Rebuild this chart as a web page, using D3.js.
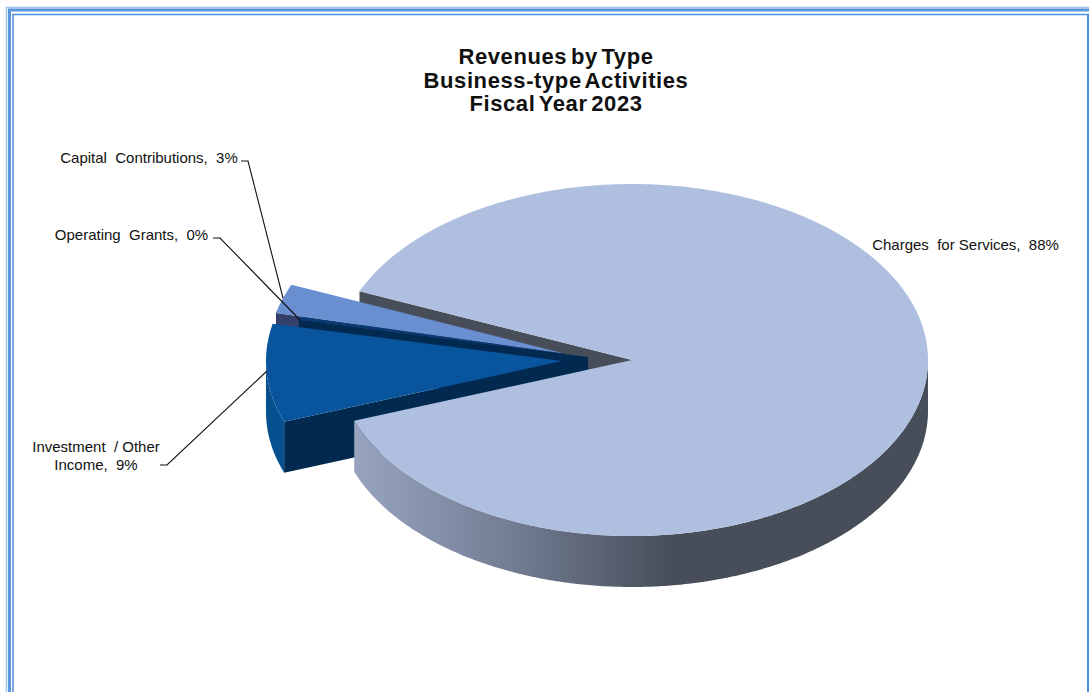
<!DOCTYPE html>
<html>
<head>
<meta charset="utf-8">
<script src="https://cdn.jsdelivr.net/npm/d3@7/dist/d3.min.js"></script>
<style>
  html, body { margin: 0; padding: 0; background: #fff; overflow: hidden; }
  svg { display: block; }
  text { font-family: "Liberation Sans", Arial, sans-serif; fill: #111; }
</style>
</head>
<body>
<svg id="chart" width="1089" height="692"></svg>
<script>
// Revenue shares, percent of total; the grants share is small enough to round to 0%.
const categories = ["Charges for Services", "Investment / Other Income", "Operating Grants", "Capital Contributions"];
const shares = [88, 9, 0.3, 2.7];
const titleLines = ["Revenues by Type", "Business-type Activities", "Fiscal Year 2023"];
const labelLines = [
  ["Charges  for Services,  88%"],
  ["Investment  / Other", "Income,  9%"],
  ["Operating  Grants,  0%"],
  ["Capital  Contributions,  3%"]
];
const topColors = ["#aebfe0", "#08559d", "#0a3a73", "#6a8fd0"];
const wallColors = ["#474d59", "#022a50", "#022a50", "#33406a"];
const investmentRimColor = "#07508f";

const svg = d3.select("#chart");
const width = 1089, height = 692;

// Tilted disc: unit circle coordinates map to screen pixels through these scales.
const cx = 632, cy = 360, rx = 296, ry = 176, depth = 51;
const sx = d3.scaleLinear().domain([-1, 1]).range([-rx, rx]);
const sy = d3.scaleLinear().domain([-1, 1]).range([-ry, ry]);

// Pulled-out slices keep their own apex, as an offset from the disc centre.
const offsets = [[0, 0], [-70, 1], [-44, -3], [-68, -6.5]];

const arcs = d3.pie().sort(null).value(d => d)
  .startAngle(-67 * Math.PI / 180)
  .endAngle((360 - 67) * Math.PI / 180)(shares);

const apex = i => [cx + offsets[i][0], cy + offsets[i][1]];
const rimPoint = (i, a, drop = 0) => [
  apex(i)[0] + sx(Math.sin(a)),
  apex(i)[1] + sy(-Math.cos(a)) + drop
];
const line = d3.line();
const sweep = (a0, a1) => {
  const n = Math.max(2, Math.ceil(Math.abs(a1 - a0) / 0.01));
  return d3.range(n + 1).map(k => a0 + (a1 - a0) * k / n);
};

// Flat upper face of a slice.
const topPath = i => {
  const a = arcs[i];
  return line([apex(i), ...sweep(a.startAngle, a.endAngle).map(t => rimPoint(i, t))]) + "Z";
};
// Curved outer side between two angles; only the part facing the viewer is ever asked for.
const rimPath = (i, a0, a1) => {
  const ts = sweep(a0, a1);
  return line([...ts.map(t => rimPoint(i, t)), ...ts.reverse().map(t => rimPoint(i, t, depth))]) + "Z";
};
// Straight cut side running from the apex out to the rim at angle a.
const wallPath = (i, a) => {
  const p = apex(i), q = rimPoint(i, a);
  return line([p, q, [q[0], q[1] + depth], [p[0], p[1] + depth]]) + "Z";
};

const defs = svg.append("defs");
const grad = defs.append("linearGradient").attr("id", "mainRim")
  .attr("gradientUnits", "userSpaceOnUse")
  .attr("x1", 355).attr("x2", 672).attr("y1", 0).attr("y2", 0);
grad.append("stop").attr("offset", 0).attr("stop-color", "#98a4bf");
grad.append("stop").attr("offset", 0.5).attr("stop-color", "#727d93");
grad.append("stop").attr("offset", 1).attr("stop-color", "#474d59");

// Page frame: nested blue rules on the top and sides, open at the bottom.
const frame = svg.append("g").attr("fill", "none");
const frameRules = [
  { x0: 6.5, y0: 7.5, w: 1.5, c: "#9cc3f0" },
  { x0: 9.5, y0: 10, w: 3, c: "#5b95dc" },
  { x0: 13, y0: 14.5, w: 1.5, c: "#4a90e6" }
];
frameRules.forEach(r => {
  frame.append("path")
    .attr("d", line([[r.x0, height], [r.x0, r.y0], [width, r.y0]]))
    .attr("stroke", r.c).attr("stroke-width", r.w);
});
frame.append("path").attr("d", line([[1088, 15], [1088, height]]))
  .attr("stroke", "#4a90e6").attr("stroke-width", 2);

const pie = svg.append("g");
const add = (d, fill) => pie.append("path").attr("d", d).attr("fill", fill);

const [MAIN, INV, OPS, CAP] = [0, 1, 2, 3];

// Painted back to front so that nearer faces cover farther ones.
add(wallPath(MAIN, arcs[MAIN].startAngle), wallColors[MAIN]);

add(wallPath(CAP, arcs[CAP].startAngle), wallColors[CAP]);
add(topPath(CAP), topColors[CAP]);

add(wallPath(OPS, arcs[OPS].startAngle), wallColors[OPS]);
add(topPath(OPS), topColors[OPS]);

add(rimPath(INV, arcs[INV].startAngle, 1.5 * Math.PI), investmentRimColor);
add(wallPath(INV, arcs[INV].startAngle), wallColors[INV]);
add(topPath(INV), topColors[INV]);

add(rimPath(MAIN, Math.PI / 2, arcs[MAIN].endAngle), "url(#mainRim)");
add(topPath(MAIN), topColors[MAIN]);

// Title block.
svg.append("g").selectAll("text").data(titleLines).join("text")
  .attr("x", 556).attr("y", (d, i) => 64 + i * 23.5)
  .attr("text-anchor", "middle")
  .attr("font-size", 22).attr("font-weight", 700)
  .attr("letter-spacing", 0.6).attr("word-spacing", -3)
  .text(d => d);

// Category labels and their leader lines.
const labelPlacement = [
  { x: 965.5, y: 250, anchor: "middle" },
  { x: 96, y: 452, anchor: "middle" },
  { x: 131.5, y: 240, anchor: "middle" },
  { x: 149, y: 163, anchor: "middle" }
];
const labels = svg.append("g");
labelLines.forEach((ls, i) => {
  const p = labelPlacement[i];
  const t = labels.append("text").attr("text-anchor", p.anchor)
    .attr("font-size", 15).attr("xml:space", "preserve").style("white-space", "pre");
  ls.forEach((s, k) => t.append("tspan").attr("x", p.x).attr("y", p.y + k * 17.5).text(s));
});
const leaders = [
  [[160, 465], [167, 465], [267, 371]],
  [[213, 238], [220, 238], [300, 320]],
  [[241, 161], [248, 161], [283, 298]]
];
svg.append("g").selectAll("path").data(leaders).join("path")
  .attr("d", d => line(d)).attr("fill", "none")
  .attr("stroke", "#111").attr("stroke-width", 1.1);
</script>
</body>
</html>
